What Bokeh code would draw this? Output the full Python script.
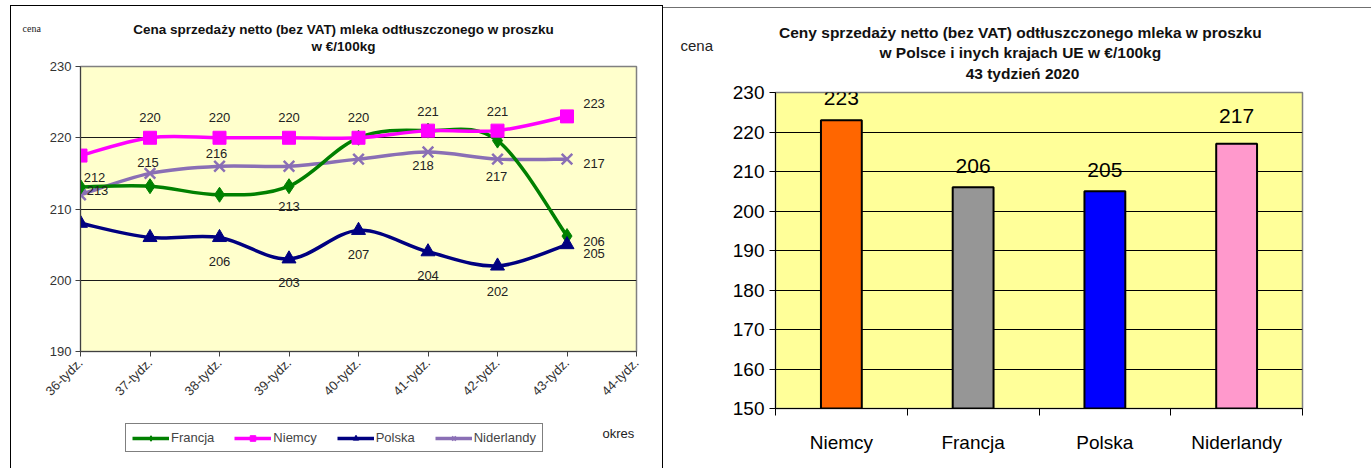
import math
from bokeh.plotting import figure
from bokeh.models import (Range1d, FixedTicker, Label, Legend, LegendItem,
                          ColumnDataSource)
from bokeh.layouts import row, column
from bokeh.embed import file_html
from bokeh.resources import INLINE
from bokeh.core.properties import value

# ---------------- data ----------------
WEEKS = ["36-tydz.", "37-tydz.", "38-tydz.", "39-tydz.", "40-tydz.",
         "41-tydz.", "42-tydz.", "43-tydz.", "44-tydz."]
FRANCJA = [213.1, 213.2, 212.0, 213.2, 220.0, 221.0, 219.6, 206.2]
NIEMCY = [217.5, 220, 220, 220, 220, 221, 221, 223]
POLSKA = [208, 206, 206, 203, 207, 204, 202, 205]
NIDERLANDY = [212, 215, 216, 216, 217, 218, 217, 217]

COUNTRIES = ["Niemcy", "Francja", "Polska", "Niderlandy"]
PRICES_43 = [223, 206, 205, 217]

# label placement styles (pixel offsets, None = no label)
FR_LBL = [(17, 4), None, None, (0, 20), None, None, None, (27, 5)]
NI_LBL = [None, (0, -20), (0, -20), (0, -20), (0, -20), (0, -19), (0, -19), (27, -13)]
PL_LBL = [None, None, (0, 24), (0, 24), (0, 24), (0, 24), (0, 25), (27, 9)]
ND_LBL = [(14, -17), (-2, -11), (-3, -13), None, None, (-5, 13), (-1, 17), (27, 4)]
BAR_LBL_DY = [-22, -21, -21, -28]

NARROW = "'Liberation Sans Narrow', 'Arial Narrow', 'Liberation Sans', sans-serif"
SANS = "'Liberation Sans', Arial, sans-serif"
SERIF = "'Liberation Serif', 'Times New Roman', serif"


def side_label(fig, place, x, y, text, font, size, style="normal", align="left",
               color="#222222"):
    lab = Label(x=x, y=y, x_units="canvas", y_units="canvas", text=text,
                text_font=font, text_font_size=size, text_font_style=style,
                text_align=align, text_baseline="middle", text_color=color)
    if place == "center":
        fig.add_layout(lab)
    else:
        fig.add_layout(lab, place)


# ---------------- left chart ----------------
LW, LH = 651, 414
FL, FR, FT, FB = 69, 625, 60, 345

left = figure(width=LW, height=LH, output_backend="svg", toolbar_location=None,
              title=None, x_range=Range1d(0, 8), y_range=Range1d(190, 230),
              min_border_left=FL, min_border_right=LW - FR,
              min_border_top=FT, min_border_bottom=LH - FB)
left.background_fill_color = "#FFFFCC"
left.border_fill_color = "white"
left.outline_line_color = "#808080"
left.outline_line_width = 1.5
left.xgrid.visible = False
left.ygrid.grid_line_color = "#1a1a1a"
left.ygrid.grid_line_width = 1
left.ygrid.ticker = FixedTicker(ticks=[190, 200, 210, 220, 230])

left.yaxis.ticker = FixedTicker(ticks=[190, 200, 210, 220, 230])
left.yaxis.major_label_text_font = NARROW
left.yaxis.major_label_text_font_size = "13px"
left.yaxis.major_label_text_color = "#333333"
left.yaxis.axis_line_color = "#404040"
left.yaxis.major_tick_line_color = "#404040"
left.yaxis.major_tick_out = 5
left.yaxis.major_tick_in = 0
left.yaxis.minor_tick_line_color = None
left.yaxis.major_label_standoff = 4

left.xaxis.ticker = FixedTicker(ticks=list(range(len(WEEKS))))
left.xaxis.major_label_overrides = {i: w for i, w in enumerate(WEEKS)}
left.xaxis.major_label_orientation = math.pi / 4
left.xaxis.major_label_text_font = NARROW
left.xaxis.major_label_text_font_size = "13px"
left.xaxis.major_label_text_color = "#333333"
left.xaxis.axis_line_color = "#404040"
left.xaxis.major_tick_line_color = "#404040"
left.xaxis.major_tick_out = 5
left.xaxis.major_tick_in = 0
left.xaxis.minor_tick_line_color = None
left.xaxis.major_label_standoff = 4


def smooth(ys):
    xs = list(range(len(ys)))
    n = len(ys)
    d = dict(x0=[], y0=[], x1=[], y1=[], cx0=[], cy0=[], cx1=[], cy1=[])
    for i in range(n - 1):
        a, b = max(i - 1, 0), min(i + 2, n - 1)
        d["x0"].append(xs[i]); d["y0"].append(ys[i])
        d["x1"].append(xs[i + 1]); d["y1"].append(ys[i + 1])
        d["cx0"].append(xs[i] + (xs[i + 1] - xs[a]) / 6)
        d["cy0"].append(ys[i] + (ys[i + 1] - ys[a]) / 6)
        d["cx1"].append(xs[i + 1] - (xs[b] - xs[i]) / 6)
        d["cy1"].append(ys[i + 1] - (ys[b] - ys[i]) / 6)
    return ColumnDataSource(d)


SERIES = [
    ("Niderlandy", NIDERLANDY, "#8A6FB5", "x", 15, ND_LBL),
    ("Francja", FRANCJA, "#008000", "diamond", 15, FR_LBL),
    ("Niemcy", NIEMCY, "#FF00FF", "square", 13, NI_LBL),
    ("Polska", POLSKA, "#000080", "triangle", 14, PL_LBL),
]
for name, ys, color, marker, size, lbl in SERIES:
    left.bezier(x0="x0", y0="y0", x1="x1", y1="y1", cx0="cx0", cy0="cy0",
                cx1="cx1", cy1="cy1", source=smooth(ys),
                line_color=color, line_width=3.5)
    left.scatter(x=list(range(len(ys))), y=ys, marker=marker, size=size,
                 fill_color=color, line_color=color,
                 line_width=2.5 if marker == "x" else 1)

for name, ys, color, marker, size, lbl in SERIES:
    xs, yv, tx, dx, dy = [], [], [], [], []
    for i, v in enumerate(ys):
        if lbl[i] is None:
            continue
        xs.append(i); yv.append(v); tx.append(str(int(round(v))))
        dx.append(lbl[i][0]); dy.append(lbl[i][1])
    left.text(x=xs, y=yv, text=tx, x_offset=dx, y_offset=dy,
              text_align="center", text_baseline="middle",
              text_font=value(NARROW), text_font_size="13px", text_color="#222222")

side_label(left, "above", 332, 40, "w €/100kg", SANS, "13.5px", "bold", "center", "#111111")
side_label(left, "above", 332, 23,
           "Cena sprzedaży netto (bez VAT) mleka odtłuszczonego w proszku",
           SANS, "13.5px", "bold", "center", "#111111")
side_label(left, "left", 11, 22, "cena", SERIF, "10px")

# ---------------- legend strip under the left chart ----------------
leg = figure(width=LW, height=48, output_backend="svg", toolbar_location=None,
             title=None, x_range=Range1d(0, 1), y_range=Range1d(0, 1),
             x_axis_location=None, y_axis_location=None,
             min_border=0, min_border_left=0, min_border_right=0,
             min_border_top=0, min_border_bottom=0)
leg.grid.visible = False
leg.outline_line_color = None
leg.background_fill_color = "white"
leg.border_fill_color = "white"
items = []
for name in ["Francja", "Niemcy", "Polska", "Niderlandy"]:
    _, ys, color, marker, size, _ = [s for s in SERIES if s[0] == name][0]
    # series values lie far outside this strip's 0..1 range: only the legend samples show
    lr = leg.line(x=list(range(len(ys))), y=ys, line_color=color, line_width=3.5)
    sr = leg.scatter(x=list(range(len(ys))), y=ys, marker=marker, size=9,
                     fill_color=color, line_color=color,
                     line_width=2 if marker == "x" else 1)
    items.append(LegendItem(label=name, renderers=[lr, sr]))
legend = Legend(items=items, orientation="horizontal", location=(45, 16),
                border_line_color="black", border_line_width=1,
                background_fill_color="white", background_fill_alpha=1,
                label_text_font=NARROW, label_text_font_size="13px",
                glyph_width=37, glyph_height=14, spacing=20, padding=6,
                margin=0, label_standoff=2)
leg.add_layout(legend)
side_label(leg, "center", 591, 13, "okres", NARROW, "13px")

# ---------------- right chart ----------------
RW, RH = 708, 460
GL, GR, GT, GB = 112, 639, 84, 400
right = figure(width=RW, height=RH, output_backend="svg", toolbar_location=None,
               title=None, x_range=Range1d(0, len(COUNTRIES)), y_range=Range1d(150, 230),
               min_border_left=GL, min_border_right=RW - GR,
               min_border_top=GT, min_border_bottom=RH - GB)
right.background_fill_color = "#FFFF99"
right.border_fill_color = "white"
right.outline_line_color = "#808080"
right.outline_line_width = 1.5
right.xgrid.visible = False
yt = list(range(150, 231, 10))
right.ygrid.ticker = FixedTicker(ticks=yt)
right.ygrid.grid_line_color = "black"
right.ygrid.grid_line_width = 1

right.yaxis.ticker = FixedTicker(ticks=yt)
right.yaxis.major_label_text_font = NARROW
right.yaxis.major_label_text_font_size = "19px"
right.yaxis.major_label_text_color = "black"
right.yaxis.axis_line_color = "black"
right.yaxis.major_tick_line_color = "black"
right.yaxis.major_tick_out = 6
right.yaxis.major_tick_in = 0
right.yaxis.minor_tick_line_color = None
right.yaxis.major_label_standoff = 5

centers = [i + 0.5 for i in range(len(COUNTRIES))]
right.xaxis.ticker = FixedTicker(ticks=centers, minor_ticks=list(range(len(COUNTRIES) + 1)))
right.xaxis.major_label_overrides = {c: n for c, n in zip(centers, COUNTRIES)}
right.xaxis.major_label_text_font = NARROW
right.xaxis.major_label_text_font_size = "19px"
right.xaxis.major_label_text_color = "black"
right.xaxis.axis_line_color = "black"
right.xaxis.major_tick_line_color = None
right.xaxis.minor_tick_line_color = "black"
right.xaxis.minor_tick_out = 7
right.xaxis.minor_tick_in = 0
right.xaxis.major_label_standoff = 16

BAR_COLORS = ["#FF6600", "#969696", "#0000FF", "#FF99CC"]
right.vbar(x=centers, top=PRICES_43, bottom=150, width=0.31,
           fill_color=BAR_COLORS, line_color="black", line_width=2)
right.text(x=centers, y=PRICES_43, text=[str(v) for v in PRICES_43],
           y_offset=BAR_LBL_DY, text_align="center", text_baseline="middle",
           text_font=value(NARROW), text_font_size="21px", text_color="black")

for txt, cy in [("43 tydzień 2020", 65),
                ("w Polsce i inych  krajach UE w €/100kg", 44),
                ("Ceny sprzedaży netto  (bez VAT) odtłuszczonego mleka w proszku", 24)]:
    side_label(right, "above", 359, cy, txt, SANS, "15.5px", "bold", "center", "#111111")
side_label(right, "left", 17, 37, "cena", NARROW, "15px")

left_box = column(left, leg, styles={"margin-left": "10px", "margin-top": "5px",
                                     "border-left": "1px solid black",
                                     "border-right": "1px solid black",
                                     "border-top": "1px solid black"})
right_box = column(right, styles={"margin-top": "7px",
                                  "border-top": "1px solid #707070"})
layout = row(left_box, right_box)
open("out.html", "w").write(file_html(layout, INLINE))
